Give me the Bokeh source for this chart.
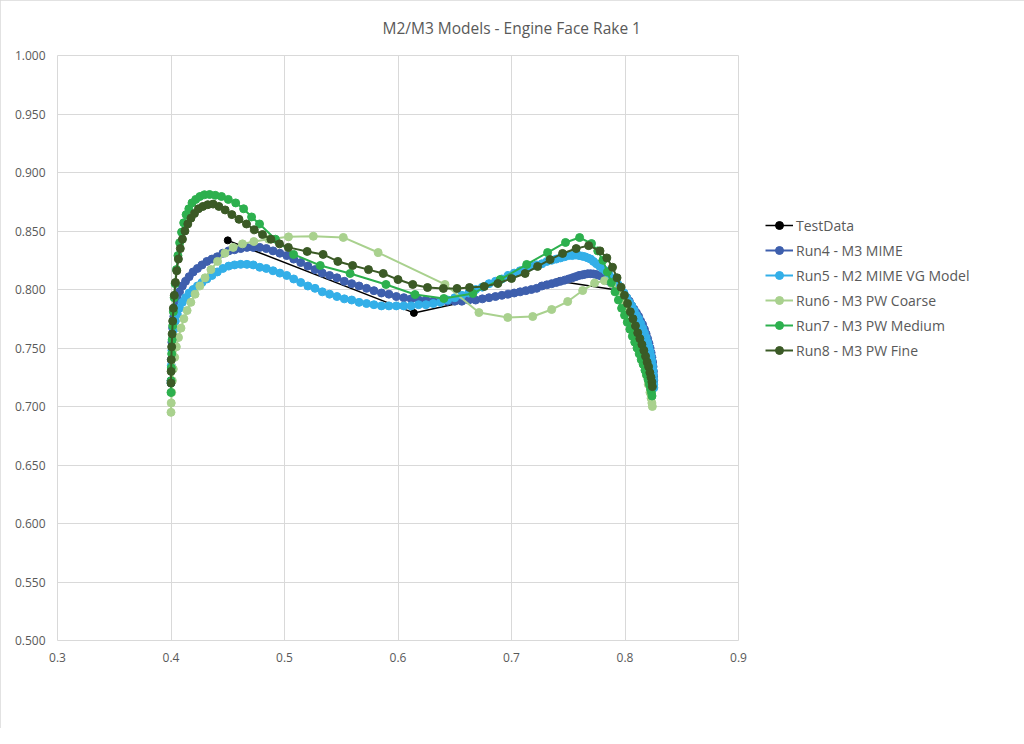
from bokeh.plotting import figure
from bokeh.models import Range1d, FixedTicker, NumeralTickFormatter, Legend
from bokeh.embed import file_html
from bokeh.resources import INLINE

TITLE = "M2/M3 Models - Engine Face Rake 1"
X_TICKS = [0.3, 0.4, 0.5, 0.6, 0.7, 0.8, 0.9]
Y_TICKS = [0.500, 0.550, 0.600, 0.650, 0.700, 0.750, 0.800, 0.850, 0.900, 0.950, 1.000]

test_x = [0.450, 0.614, 0.742, 0.797]
test_y = [0.842, 0.780, 0.807, 0.799]

run4_x = [0.4000, 0.4003, 0.4008, 0.4015, 0.4025, 0.4038, 0.4055, 0.4075, 0.4100, 0.4128,
          0.4160, 0.4195, 0.4233, 0.4273, 0.4316, 0.4361, 0.4408, 0.4457, 0.4508, 0.4560,
          0.4614, 0.4669, 0.4725, 0.4782, 0.4840, 0.4899, 0.4959, 0.5020, 0.5081, 0.5143,
          0.5206, 0.5269, 0.5333, 0.5397, 0.5462, 0.5527, 0.5592, 0.5657, 0.5723, 0.5788,
          0.5854, 0.5920, 0.5985, 0.6051, 0.6116, 0.6181, 0.6246, 0.6310, 0.6374, 0.6437,
          0.6500, 0.6562, 0.6623, 0.6684, 0.6743, 0.6802, 0.6859, 0.6915, 0.6970, 0.7024,
          0.7076, 0.7126, 0.7175, 0.7222, 0.7268, 0.7312, 0.7354, 0.7394, 0.7432, 0.7469,
          0.7503, 0.7536, 0.7566, 0.7595, 0.7622, 0.7647, 0.7672, 0.7697, 0.7722, 0.7748,
          0.7775, 0.7802, 0.7830, 0.7858, 0.7886, 0.7913, 0.7940, 0.7966, 0.7991, 0.8015,
          0.8038, 0.8060, 0.8081, 0.8101, 0.8120, 0.8138, 0.8155, 0.8171, 0.8186, 0.8199,
          0.8211, 0.8221, 0.8230, 0.8237, 0.8243, 0.8247, 0.8250, 0.8252, 0.8253]
run4_y = [0.722, 0.740, 0.755, 0.767, 0.777, 0.785, 0.792, 0.798, 0.803, 0.807,
          0.811, 0.815, 0.818, 0.821, 0.824, 0.826, 0.828, 0.831, 0.833, 0.834,
          0.835, 0.836, 0.836, 0.836, 0.835, 0.833, 0.831, 0.829, 0.826, 0.823,
          0.820, 0.817, 0.814, 0.812, 0.810, 0.807, 0.805, 0.803, 0.801, 0.799,
          0.797, 0.796, 0.794, 0.793, 0.792, 0.791, 0.791, 0.790, 0.790, 0.790,
          0.790, 0.790, 0.791, 0.791, 0.792, 0.793, 0.794, 0.795, 0.796, 0.797,
          0.798, 0.799, 0.800, 0.801, 0.803, 0.804, 0.805, 0.806, 0.807, 0.808,
          0.809, 0.810, 0.811, 0.812, 0.8125, 0.813, 0.8135, 0.8135, 0.8133, 0.8128,
          0.812, 0.811, 0.8095, 0.807, 0.805, 0.803, 0.801, 0.799, 0.796, 0.793,
          0.790, 0.786, 0.783, 0.780, 0.777, 0.773, 0.770, 0.766, 0.762, 0.758,
          0.754, 0.750, 0.746, 0.742, 0.738, 0.734, 0.730, 0.726, 0.722]

run5_x = list(run4_x) + [0.8254]
run5_y = [0.720, 0.735, 0.748, 0.758, 0.766, 0.773, 0.779, 0.784, 0.789, 0.793,
          0.797, 0.800, 0.803, 0.806, 0.809, 0.812, 0.815, 0.818, 0.820, 0.821,
          0.8215, 0.8215, 0.821, 0.819, 0.818, 0.816, 0.814, 0.812, 0.809, 0.806,
          0.803, 0.801, 0.798, 0.796, 0.794, 0.792, 0.791, 0.789, 0.788, 0.787,
          0.786, 0.786, 0.786, 0.786, 0.786, 0.787, 0.787, 0.788, 0.789, 0.791,
          0.793, 0.795, 0.797, 0.800, 0.802, 0.805, 0.807, 0.809, 0.812, 0.814,
          0.816, 0.818, 0.820, 0.821, 0.822, 0.824, 0.825, 0.826, 0.827, 0.828,
          0.829, 0.829, 0.8295, 0.829, 0.8285, 0.828, 0.827, 0.826, 0.824, 0.822,
          0.820, 0.818, 0.816, 0.813, 0.810, 0.807, 0.804, 0.800, 0.797, 0.793,
          0.789, 0.786, 0.782, 0.778, 0.775, 0.771, 0.767, 0.763, 0.759, 0.755,
          0.751, 0.747, 0.743, 0.739, 0.735, 0.731, 0.727, 0.723, 0.719, 0.716]

run6_x = [0.4000, 0.4002, 0.4006, 0.4012, 0.4020, 0.4032, 0.4047, 0.4066, 0.4088, 0.4113,
          0.4142, 0.4175, 0.4212, 0.4254, 0.4300, 0.4352, 0.4410, 0.4475, 0.4548, 0.4630,
          0.4730, 0.4860, 0.5035, 0.5254, 0.5518, 0.5825, 0.6414, 0.6713, 0.6967, 0.7187,
          0.7354, 0.7495, 0.7627, 0.7732, 0.7820, 0.7885, 0.7940, 0.7985, 0.8025, 0.8060,
          0.8092, 0.8120, 0.8145, 0.8168, 0.8188, 0.8205, 0.8220, 0.8230, 0.8237, 0.8241]
run6_y = [0.695, 0.703, 0.712, 0.722, 0.732, 0.742, 0.751, 0.759, 0.767, 0.775,
          0.782, 0.789, 0.796, 0.803, 0.810, 0.817, 0.824, 0.831, 0.836, 0.839,
          0.841, 0.843, 0.845, 0.8455, 0.8445, 0.8316, 0.8043, 0.7803, 0.7761, 0.7769,
          0.7829, 0.7897, 0.7991, 0.8055, 0.8075, 0.805, 0.799, 0.791, 0.782, 0.773,
          0.763, 0.754, 0.745, 0.736, 0.727, 0.719, 0.712, 0.707, 0.703, 0.700]

run7_x = [0.4000, 0.4001, 0.4003, 0.4006, 0.4010, 0.4015, 0.4021, 0.4028, 0.4037, 0.4048,
          0.4061, 0.4076, 0.4093, 0.4112, 0.4133, 0.4157, 0.4185, 0.4218, 0.4255, 0.4295,
          0.4340, 0.4390, 0.4445, 0.4505, 0.4570, 0.4640, 0.4710, 0.4780, 0.4920, 0.5080,
          0.5315, 0.5578, 0.5894, 0.6150, 0.6404, 0.6660, 0.6900, 0.7134, 0.7318, 0.7476,
          0.7600, 0.7705, 0.7760, 0.7805, 0.7845, 0.7880, 0.7912, 0.7942, 0.7970, 0.7996,
          0.8020, 0.8043, 0.8065, 0.8086, 0.8106, 0.8125, 0.8143, 0.8160, 0.8176, 0.8190,
          0.8203, 0.8215, 0.8225, 0.8233, 0.8238]
run7_y = [0.712, 0.722, 0.733, 0.745, 0.757, 0.769, 0.781, 0.793, 0.805, 0.817,
          0.829, 0.840, 0.849, 0.857, 0.864, 0.869, 0.874, 0.877, 0.8795, 0.881,
          0.8812, 0.8805, 0.8795, 0.877, 0.874, 0.869, 0.862, 0.856, 0.843, 0.830,
          0.8205, 0.8137, 0.8043, 0.7957, 0.7923, 0.7966, 0.8085, 0.8214, 0.8316, 0.8402,
          0.8444, 0.8393, 0.833, 0.825, 0.815, 0.806, 0.798, 0.791, 0.784, 0.778,
          0.772, 0.766, 0.760, 0.755, 0.750, 0.745, 0.740, 0.736, 0.731, 0.727,
          0.723, 0.719, 0.715, 0.712, 0.709]

run8_x = [0.4000, 0.4001, 0.4003, 0.4006, 0.4010, 0.4015, 0.4021, 0.4029, 0.4039, 0.4051,
          0.4065, 0.4082, 0.4101, 0.4123, 0.4148, 0.4176, 0.4207, 0.4242, 0.4281, 0.4324,
          0.4371, 0.4422, 0.4477, 0.4536, 0.4599, 0.4665, 0.4734, 0.4806, 0.4880, 0.4956,
          0.5034, 0.5200, 0.5340, 0.5470, 0.5600, 0.5740, 0.5870, 0.6000, 0.6130, 0.6260,
          0.6400, 0.6520, 0.6630, 0.6760, 0.6880, 0.7000, 0.7120, 0.7230, 0.7340, 0.7450,
          0.7570, 0.7680, 0.7780, 0.7840, 0.7890, 0.7930, 0.7965, 0.7995, 0.8022, 0.8047,
          0.8070, 0.8092, 0.8112, 0.8131, 0.8149, 0.8166, 0.8181, 0.8195, 0.8208, 0.8219,
          0.8229, 0.8237, 0.8241]
run8_y = [0.720, 0.730, 0.740, 0.751, 0.762, 0.773, 0.784, 0.795, 0.806, 0.816,
          0.826, 0.835, 0.843, 0.850, 0.856, 0.861, 0.865, 0.869, 0.871, 0.8725,
          0.873, 0.871, 0.868, 0.864, 0.860, 0.856, 0.851, 0.847, 0.843, 0.839,
          0.836, 0.8325, 0.830, 0.824, 0.8205, 0.817, 0.8137, 0.8085, 0.8043, 0.8017,
          0.8009, 0.8009, 0.8017, 0.8026, 0.8051, 0.8094, 0.8137, 0.8197, 0.8256, 0.8308,
          0.835, 0.8375, 0.833, 0.827, 0.819, 0.810, 0.802, 0.795, 0.788, 0.781,
          0.775, 0.769, 0.763, 0.758, 0.753, 0.748, 0.743, 0.738, 0.734, 0.729,
          0.725, 0.721, 0.717]

series = [
    ("TestData", test_x, test_y, "#000000"),
    ("Run4 - M3 MIME", run4_x, run4_y, "#3E5FAD"),
    ("Run5 - M2 MIME VG Model", run5_x, run5_y, "#33AFE8"),
    ("Run6 - M3 PW Coarse", run6_x, run6_y, "#A9D18E"),
    ("Run7 - M3 PW Medium", run7_x, run7_y, "#2DB04E"),
    ("Run8 - M3 PW Fine", run8_x, run8_y, "#3B5A26"),
]

FONT = "Open Sans"
TXT = "#595959"
GRID = "#D9D9D9"

p = figure(width=1008, height=728, frame_width=681, frame_height=585,
           output_backend="svg", toolbar_location=None,
           x_range=Range1d(0.3, 0.9), y_range=Range1d(0.5, 1.0),
           min_border_left=57, min_border_right=270, min_border_top=55, min_border_bottom=88)
p.styles = {"outline": "1px solid #D9D9D9", "outline-offset": "-1px"}
p.outline_line_color = GRID
p.background_fill_color = "white"
p.border_fill_color = "white"

p.title.text = TITLE
p.title.align = "left"
p.title.offset = 325
p.title.vertical_align = "top"
p.title.standoff = 30
p.title.text_font = FONT
p.title.text_font_size = "15.5px"
p.title.text_font_style = "normal"
p.title.text_color = TXT

for ax in (p.xaxis[0], p.yaxis[0]):
    ax.axis_line_color = None
    ax.major_tick_line_color = None
    ax.minor_tick_line_color = None
    ax.major_tick_out = 0
    ax.major_tick_in = 0
    ax.major_label_text_font = FONT
    ax.major_label_text_font_size = "12px"
    ax.major_label_text_color = TXT

p.xaxis[0].ticker = FixedTicker(ticks=X_TICKS)
p.xaxis[0].formatter = NumeralTickFormatter(format="0.0")
p.xaxis[0].major_label_standoff = 12
p.yaxis[0].ticker = FixedTicker(ticks=Y_TICKS)
p.yaxis[0].formatter = NumeralTickFormatter(format="0.000")
p.yaxis[0].major_label_standoff = 12

p.xgrid[0].ticker = FixedTicker(ticks=X_TICKS)
p.ygrid[0].ticker = FixedTicker(ticks=Y_TICKS)
for g in (p.xgrid[0], p.ygrid[0]):
    g.grid_line_color = GRID
    g.grid_line_width = 1

items = []
for name, xs, ys, col in series:
    lw = 1.5 if name == "TestData" else 2
    sz = 7 if name == "TestData" else 8
    r1 = p.line(xs, ys, line_color=col, line_width=lw)
    r2 = p.scatter(xs, ys, marker="circle", size=sz, fill_color=col, line_color=col)
    items.append((name, [r1, r2]))

legend = Legend(items=items, location=(27, 280), orientation="vertical",
                border_line_color=None, background_fill_alpha=0,
                padding=0, margin=0, spacing=5,
                glyph_width=28, glyph_height=20, label_height=20,
                label_standoff=3,
                label_text_font=FONT, label_text_font_size="14px",
                label_text_color=TXT)
p.add_layout(legend, "right")

open("out.html", "w").write(file_html(p, INLINE))
